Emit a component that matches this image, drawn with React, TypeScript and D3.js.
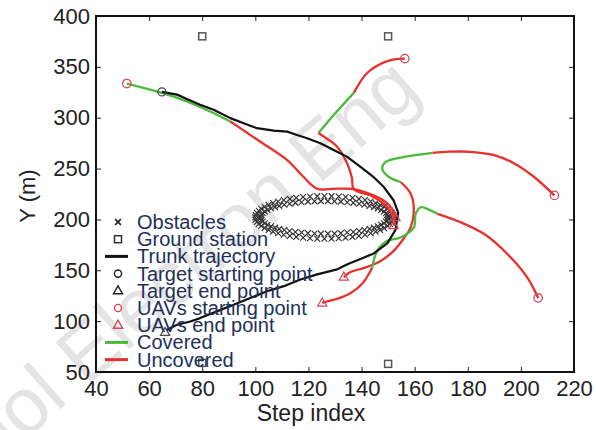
import { useEffect, useRef } from 'react';
import * as d3 from 'd3';

type Pt = [number, number];
type Seg = { covered: boolean; pts: Pt[] };

// ---- data ----
const xTicks = [40, 60, 80, 100, 120, 140, 160, 180, 200, 220];
const yTicks = [50, 100, 150, 200, 250, 300, 350, 400];

const groundStations: Pt[] = [[80, 380], [150, 380], [80, 59], [150, 58]];

// obstacle markers, outer ring of the band
const obstaclesOuter: Pt[] = [
  [152.0, 202.0], [151.9, 204.2], [151.4, 206.4], [150.7, 208.5], [149.8, 210.5], [148.5, 212.5], [147.0, 214.3], [145.3, 216.1],
  [143.4, 217.6], [141.3, 219.0], [139.0, 220.2], [136.6, 221.2], [134.0, 222.0], [131.4, 222.5], [128.7, 222.9],
  [126.0, 223.0], [123.3, 222.9], [120.6, 222.5], [118.0, 222.0], [115.4, 221.2], [113.0, 220.2], [110.7, 219.0], [108.6, 217.6],
  [106.7, 216.1], [105.0, 214.3], [103.5, 212.5], [102.2, 210.5], [101.3, 208.5], [100.6, 206.4], [100.1, 204.2],
  [100.0, 202.0], [100.1, 199.8], [100.6, 197.6], [101.3, 195.5], [102.2, 193.5], [103.5, 191.5], [105.0, 189.7], [106.7, 187.9],
  [108.6, 186.4], [110.7, 185.0], [113.0, 183.8], [115.4, 182.8], [118.0, 182.0], [120.6, 181.5], [123.3, 181.1],
  [126.0, 181.0], [128.7, 181.1], [131.4, 181.5], [134.0, 182.0], [136.6, 182.8], [139.0, 183.8], [141.3, 185.0], [143.4, 186.4],
  [145.3, 187.9], [147.0, 189.7], [148.5, 191.5], [149.8, 193.5], [150.7, 195.5], [151.4, 197.6], [151.9, 199.8],
];

// obstacle markers, inner ring of the band
const obstaclesInner: Pt[] = [
  [150.0, 202.8], [149.7, 204.5], [149.2, 206.1], [148.4, 207.7], [147.4, 209.3], [146.1, 210.7], [144.7, 212.1], [143.0, 213.3],
  [141.1, 214.4], [139.1, 215.4], [136.9, 216.3], [134.6, 216.9], [132.2, 217.5], [129.8, 217.8], [127.3, 218.0],
  [124.7, 218.0], [122.3, 217.8], [119.8, 217.5], [117.4, 216.9], [115.1, 216.3], [112.9, 215.4], [110.9, 214.4], [109.0, 213.3],
  [107.4, 212.1], [105.9, 210.7], [104.6, 209.3], [103.6, 207.7], [102.8, 206.1], [102.3, 204.5], [102.0, 202.8],
  [102.0, 201.2], [102.3, 199.5], [102.8, 197.9], [103.6, 196.3], [104.6, 194.7], [105.9, 193.3], [107.4, 191.9], [109.0, 190.7],
  [110.9, 189.6], [112.9, 188.6], [115.1, 187.7], [117.4, 187.1], [119.8, 186.5], [122.3, 186.2], [124.7, 186.0],
  [127.3, 186.0], [129.8, 186.2], [132.2, 186.5], [134.6, 187.1], [136.9, 187.7], [139.1, 188.6], [141.1, 189.6], [143.0, 190.7],
  [144.7, 191.9], [146.1, 193.3], [147.4, 194.7], [148.4, 196.3], [149.2, 197.9], [149.7, 199.5], [150.0, 201.2],
];

const trunk: Pt[] = [
  [64.8, 325.4], [70.5, 322.7], [74.2, 318.4], [79.2, 312.8], [84.3, 307.8], [90.6, 299.6], [95.6, 294.6],
  [100.6, 289.7], [106.9, 287.3], [112.0, 286.3], [115.7, 283.0], [119.5, 279.8], [124.5, 274.8], [129.5, 268.2],
  [134.6, 261.5], [139.6, 251.6], [144.2, 242.4], [148.4, 231.8], [152.1, 218.6], [153.8, 206.7], [152.8, 189.9],
  [149.7, 176.5], [144.6, 166.6], [139.6, 161.2], [135.8, 157.2], [133.3, 154.2], [130.8, 150.9], [123.3, 146.0],
  [117.0, 141.0], [110.7, 134.4], [104.4, 129.4], [98.1, 122.8], [91.8, 116.2], [85.5, 109.6], [79.2, 103.0],
  [75.5, 99.7], [70.5, 96.4], [66.4, 91.0],
];
const targetStart: Pt = [64.8, 325.4];
const targetEnd: Pt = [66.0, 89.0];

const uavStarts: Pt[] = [[51.6, 333.6], [156.3, 358.1], [212.6, 223.6], [206.5, 122.8]];
const uavEnds: Pt[] = [[152.8, 201.8], [152.1, 193.9], [133.3, 143.3], [125.2, 117.8]];

const uav1: Seg[] = [
  { covered: true, pts: [[51.6, 333.6], [64.8, 324.4], [74.2, 316.1], [83.0, 306.1], [90.6, 296.2]] },
  { covered: false, pts: [[90.6, 296.2], [101.9, 276.4], [112.0, 258.3], [118.2, 241.7], [123.3, 230.2], [130.2, 230.2],
    [136.6, 230.0], [141.5, 226.6], [148.3, 218.6], [151.7, 209.7], [152.8, 201.8]] },
];
const uav2: Seg[] = [
  { covered: false, pts: [[156.3, 358.1], [149.7, 355.7], [142.2, 344.2], [137.1, 324.4]] },
  { covered: true, pts: [[137.1, 324.4], [129.6, 302.9], [123.8, 285.0]] },
  { covered: false, pts: [[123.8, 285.0], [125.8, 281.4], [130.8, 271.5], [134.6, 255.0], [136.4, 240.4], [137.0, 230.0],
    [144.2, 222.6], [149.8, 211.7], [152.1, 200.8], [152.1, 193.9]] },
];
const uav3: Seg[] = [
  { covered: false, pts: [[212.6, 223.6], [205.0, 241.7], [197.5, 255.0], [189.9, 263.2], [181.1, 266.5], [173.0, 266.6], [166.7, 265.5]] },
  { covered: true, pts: [[166.7, 265.5], [156.0, 261.5], [149.1, 256.6], [147.8, 250.0], [150.3, 241.7], [154.7, 236.8]] },
  { covered: false, pts: [[154.7, 236.8], [158.5, 225.3], [159.7, 208.7], [158.5, 192.2], [155.8, 181.0], [152.1, 169.1],
    [147.2, 159.2], [140.8, 152.2], [135.8, 148.3], [133.3, 143.3]] },
];
const uav4: Seg[] = [
  { covered: false, pts: [[206.5, 122.8], [202.5, 142.6], [195.0, 165.8], [186.2, 185.6], [177.4, 197.1], [168.6, 205.5]] },
  { covered: true, pts: [[168.6, 205.5], [165.3, 209.7], [162.3, 212.0], [160.4, 205.7], [159.7, 192.2], [154.7, 182.3],
    [149.7, 179.0], [145.9, 169.1], [144.0, 152.5]] },
  { covered: false, pts: [[144.0, 152.5], [140.4, 137.3], [135.8, 127.5], [130.2, 121.5], [125.8, 118.5], [125.2, 117.8]] },
];
const uavPaths = [uav1, uav2, uav3, uav4];

const legendLabels = [
  'Obstacles', 'Ground station', 'Trunk trajectory', 'Target starting point', 'Target end point',
  'UAVs starting point', 'UAVs end point', 'Covered', 'Uncovered',
];

const FONT = '"Liberation Sans", Arial, sans-serif';
const GREEN = '#4cb83c';
const RED = '#e8302c';
const MARK_RED = '#d9455f';
const MARK_GRAY = '#4a4a4a';

const App = () => {
  const svgRef = useRef<SVGSVGElement>(null);

  useEffect(() => {
    const W = 596;
    const H = 430;
    const svg = d3.select(svgRef.current).attr('width', W).attr('height', H);
    svg.selectAll('*').remove();

    const x = d3.scaleLinear().domain([40, 220]).range([96, 574]);
    const y = d3.scaleLinear().domain([50, 400]).range([372, 16]);

    // watermark
    svg.append('text')
      .attr('x', 423).attr('y', 94)
      .attr('transform', 'rotate(-41,423,94)')
      .attr('text-anchor', 'end')
      .attr('font-family', FONT)
      .attr('font-size', 78)
      .attr('fill', '#e4e4e4')
      .text('Front Inform Technol Electron Eng');

    // obstacles
    const cross = 'M-2.9,-2.9L2.9,2.9M-2.9,2.9L2.9,-2.9';
    svg.append('g')
      .selectAll('path')
      .data([...obstaclesOuter, ...obstaclesInner])
      .enter().append('path')
      .attr('d', cross)
      .attr('transform', d => `translate(${x(d[0])},${y(d[1])})`)
      .attr('stroke', '#333')
      .attr('stroke-width', 1.15)
      .attr('fill', 'none');

    // ground stations
    svg.append('g')
      .selectAll('rect')
      .data(groundStations)
      .enter().append('rect')
      .attr('x', d => x(d[0]) - 3.5)
      .attr('y', d => y(d[1]) - 3.5)
      .attr('width', 7).attr('height', 7)
      .attr('fill', 'none')
      .attr('stroke', '#555')
      .attr('stroke-width', 1.5);

    const smooth = d3.line<Pt>()
      .x(d => x(d[0]))
      .y(d => y(d[1]))
      .curve(d3.curveCatmullRom.alpha(0.5));
    const rough = d3.line<Pt>().x(d => x(d[0])).y(d => y(d[1]));

    // UAV paths
    uavPaths.forEach(segs => {
      segs.forEach(s => {
        svg.append('path')
          .attr('d', smooth(s.pts))
          .attr('fill', 'none')
          .attr('stroke', s.covered ? GREEN : RED)
          .attr('stroke-width', 2.3)
          .attr('stroke-linejoin', 'round');
      });
    });

    // trunk trajectory
    svg.append('path')
      .attr('d', rough(trunk))
      .attr('fill', 'none')
      .attr('stroke', '#111')
      .attr('stroke-width', 2.2)
      .attr('stroke-linejoin', 'round');

    const tri = 'M0,-5L4.6,3L-4.6,3Z';

    // markers
    svg.append('circle')
      .attr('cx', x(targetStart[0])).attr('cy', y(targetStart[1])).attr('r', 4)
      .attr('fill', 'none').attr('stroke', MARK_GRAY).attr('stroke-width', 1.3);
    svg.append('path')
      .attr('d', tri)
      .attr('transform', `translate(${x(targetEnd[0])},${y(targetEnd[1])})`)
      .attr('fill', 'none').attr('stroke', MARK_GRAY).attr('stroke-width', 1.2);

    svg.append('g').selectAll('circle')
      .data(uavStarts).enter().append('circle')
      .attr('cx', d => x(d[0])).attr('cy', d => y(d[1])).attr('r', 4.2)
      .attr('fill', 'none').attr('stroke', MARK_RED).attr('stroke-width', 1.3);
    svg.append('g').selectAll('path')
      .data(uavEnds).enter().append('path')
      .attr('d', tri)
      .attr('transform', d => `translate(${x(d[0])},${y(d[1])})`)
      .attr('fill', 'none').attr('stroke', MARK_RED).attr('stroke-width', 1.2);

    // axes
    const styleAxis = (g: any) => {
      g.select('.domain').remove();
      g.attr('font-family', FONT).attr('font-size', 22).attr('color', '#222');
      g.selectAll('line').attr('stroke-width', 1);
    };

    svg.append('g')
      .attr('transform', `translate(0,${y(50)})`)
      .call(d3.axisBottom(x).tickValues(xTicks).tickSizeInner(-5).tickSizeOuter(0).tickPadding(8))
      .call(styleAxis);
    svg.append('g')
      .attr('transform', `translate(${x(40)},0)`)
      .call(d3.axisLeft(y).tickValues(yTicks).tickSizeInner(-5).tickSizeOuter(0).tickPadding(6))
      .call(styleAxis);
    svg.append('g')
      .attr('transform', `translate(0,${y(400)})`)
      .call(d3.axisTop(x).tickValues(xTicks).tickSizeInner(-5).tickSizeOuter(0).tickFormat(() => ''))
      .call(styleAxis);
    svg.append('g')
      .attr('transform', `translate(${x(220)},0)`)
      .call(d3.axisRight(y).tickValues(yTicks).tickSizeInner(-5).tickSizeOuter(0).tickFormat(() => ''))
      .call(styleAxis);

    svg.append('rect')
      .attr('x', x(40)).attr('y', y(400))
      .attr('width', x(220) - x(40)).attr('height', y(50) - y(400))
      .attr('fill', 'none').attr('stroke', '#111').attr('stroke-width', 2);

    svg.append('text')
      .attr('x', 311).attr('y', 421)
      .attr('text-anchor', 'middle')
      .attr('font-family', FONT).attr('font-size', 23).attr('fill', '#222')
      .text('Step index');
    svg.append('text')
      .attr('transform', 'translate(35,196) rotate(-90)')
      .attr('text-anchor', 'middle')
      .attr('font-family', FONT).attr('font-size', 22).attr('fill', '#222')
      .text('Y (m)');

    // legend
    const lx = 118;
    const ly0 = 222;
    const step = 17.2;
    const legend = svg.append('g');
    legendLabels.forEach((label, i) => {
      const cy = ly0 + i * step;
      const g = legend.append('g');
      if (i === 0) {
        g.append('path').attr('d', cross).attr('transform', `translate(${lx},${cy})`)
          .attr('stroke', '#222').attr('stroke-width', 1.6).attr('fill', 'none');
      } else if (i === 1) {
        g.append('rect').attr('x', lx - 3.5).attr('y', cy - 3.5).attr('width', 7).attr('height', 7)
          .attr('fill', 'none').attr('stroke', '#333').attr('stroke-width', 1.5);
      } else if (i === 2 || i === 7 || i === 8) {
        g.append('line').attr('x1', lx - 13).attr('x2', lx + 10).attr('y1', cy).attr('y2', cy)
          .attr('stroke', i === 2 ? '#111' : i === 7 ? GREEN : RED).attr('stroke-width', 3);
      } else if (i === 3 || i === 5) {
        g.append('circle').attr('cx', lx).attr('cy', cy).attr('r', 3.6)
          .attr('fill', 'none').attr('stroke', i === 3 ? '#222' : MARK_RED).attr('stroke-width', 1.4);
      } else {
        g.append('path').attr('d', tri).attr('transform', `translate(${lx},${cy})`)
          .attr('fill', 'none').attr('stroke', i === 4 ? '#222' : MARK_RED).attr('stroke-width', 1.4);
      }
      g.append('text')
        .attr('x', 137).attr('y', cy + 7)
        .attr('font-family', FONT).attr('font-size', 20).attr('fill', '#22305a')
        .text(label);
    });
  }, []);

  return (
    <svg ref={svgRef} style={{ position: 'absolute', left: 0, top: 0, background: '#fff' }}></svg>
  );
};

export default App;
